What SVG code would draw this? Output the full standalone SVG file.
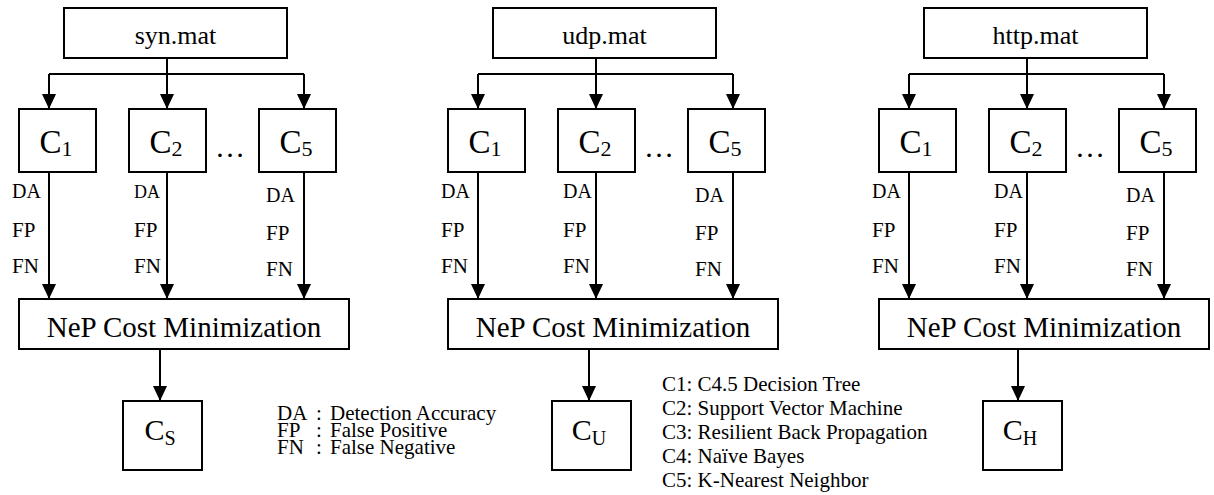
<svg xmlns="http://www.w3.org/2000/svg" width="1214" height="495" viewBox="0 0 1214 495">
  <defs>
    <marker id="head" viewBox="0 0 15 14" markerWidth="15" markerHeight="14" refX="15" refY="7" orient="auto" markerUnits="userSpaceOnUse">
      <path d="M0,0 L15,7 L0,14 z" fill="#000"/>
    </marker>
  </defs>

  <!-- ===== syn.mat pipeline ===== -->
  <g id="syn">
    <g id="syn-connectors" fill="none" stroke="#000" stroke-width="2">
      <path d="M167,58 V74 M49,74 H304"/>
      <path d="M49,74 V109" marker-end="url(#head)"/>
      <path d="M167,74 V109" marker-end="url(#head)"/>
      <path d="M304,74 V109" marker-end="url(#head)"/>
      <path d="M49,172 V299" marker-end="url(#head)"/>
      <path d="M167,172 V299" marker-end="url(#head)"/>
      <path d="M304,172 V299" marker-end="url(#head)"/>
      <path d="M160,349 V401" marker-end="url(#head)"/>
    </g>
    <g id="syn-dataset"><rect x="64" y="8" width="223" height="50" fill="#fff" stroke="#000" stroke-width="2"/><text font-family="Liberation Serif" font-size="26" text-anchor="middle" x="175.5" y="44">syn.mat</text></g>
    <g id="syn-c1"><rect x="19" y="109" width="77" height="63" fill="#fff" stroke="#000" stroke-width="2"/><text font-family="Liberation Serif" font-size="33" text-anchor="middle" x="56" y="153">C<tspan font-size="22" dy="3">1</tspan></text></g>
    <g id="syn-c2"><rect x="129" y="109" width="77" height="63" fill="#fff" stroke="#000" stroke-width="2"/><text font-family="Liberation Serif" font-size="33" text-anchor="middle" x="166" y="153">C<tspan font-size="22" dy="3">2</tspan></text></g>
    <text font-family="Liberation Serif" font-size="30" text-anchor="middle" x="230" y="157">…</text>
    <g id="syn-c5"><rect x="259" y="109" width="77" height="63" fill="#fff" stroke="#000" stroke-width="2"/><text font-family="Liberation Serif" font-size="33" text-anchor="middle" x="296" y="153">C<tspan font-size="22" dy="3">5</tspan></text></g>
    <g id="syn-metrics">
      <text font-family="Liberation Serif" font-size="20" x="12" y="198">DA</text>
      <text font-family="Liberation Serif" font-size="21" x="12" y="237">FP</text>
      <text font-family="Liberation Serif" font-size="21" x="12" y="273">FN</text>
      <text font-family="Liberation Serif" font-size="18" x="134" y="198">DA</text>
      <text font-family="Liberation Serif" font-size="21" x="134" y="237">FP</text>
      <text font-family="Liberation Serif" font-size="21" x="134" y="273">FN</text>
      <text font-family="Liberation Serif" font-size="20" x="266" y="202">DA</text>
      <text font-family="Liberation Serif" font-size="21" x="266" y="240">FP</text>
      <text font-family="Liberation Serif" font-size="21" x="266" y="276">FN</text>
    </g>
    <g id="syn-nep"><rect x="19" y="299" width="330" height="50" fill="#fff" stroke="#000" stroke-width="2"/><text font-family="Liberation Serif" font-size="29" text-anchor="middle" x="184" y="337">NeP Cost Minimization</text></g>
    <g id="syn-out"><rect x="123" y="401" width="79" height="69" fill="#fff" stroke="#000" stroke-width="2"/><text font-family="Liberation Serif" font-size="30" text-anchor="middle" x="160" y="440">C<tspan font-size="20" dy="5">S</tspan></text></g>
  </g>

  <!-- ===== udp.mat pipeline ===== -->
  <g id="udp" transform="translate(429,0)">
    <g id="udp-connectors" fill="none" stroke="#000" stroke-width="2">
      <path d="M167,58 V74 M49,74 H304"/>
      <path d="M49,74 V109" marker-end="url(#head)"/>
      <path d="M167,74 V109" marker-end="url(#head)"/>
      <path d="M304,74 V109" marker-end="url(#head)"/>
      <path d="M49,172 V299" marker-end="url(#head)"/>
      <path d="M167,172 V299" marker-end="url(#head)"/>
      <path d="M304,172 V299" marker-end="url(#head)"/>
      <path d="M160,349 V401" marker-end="url(#head)"/>
    </g>
    <g id="udp-dataset"><rect x="64" y="8" width="223" height="50" fill="#fff" stroke="#000" stroke-width="2"/><text font-family="Liberation Serif" font-size="26" text-anchor="middle" x="175.5" y="44">udp.mat</text></g>
    <g id="udp-c1"><rect x="19" y="109" width="77" height="63" fill="#fff" stroke="#000" stroke-width="2"/><text font-family="Liberation Serif" font-size="33" text-anchor="middle" x="56" y="153">C<tspan font-size="22" dy="3">1</tspan></text></g>
    <g id="udp-c2"><rect x="129" y="109" width="77" height="63" fill="#fff" stroke="#000" stroke-width="2"/><text font-family="Liberation Serif" font-size="33" text-anchor="middle" x="166" y="153">C<tspan font-size="22" dy="3">2</tspan></text></g>
    <text font-family="Liberation Serif" font-size="30" text-anchor="middle" x="230" y="157">…</text>
    <g id="udp-c5"><rect x="259" y="109" width="77" height="63" fill="#fff" stroke="#000" stroke-width="2"/><text font-family="Liberation Serif" font-size="33" text-anchor="middle" x="296" y="153">C<tspan font-size="22" dy="3">5</tspan></text></g>
    <g id="udp-metrics">
      <text font-family="Liberation Serif" font-size="20" x="12" y="198">DA</text>
      <text font-family="Liberation Serif" font-size="21" x="12" y="237">FP</text>
      <text font-family="Liberation Serif" font-size="21" x="12" y="273">FN</text>
      <text font-family="Liberation Serif" font-size="20" x="134" y="198">DA</text>
      <text font-family="Liberation Serif" font-size="21" x="134" y="237">FP</text>
      <text font-family="Liberation Serif" font-size="21" x="134" y="273">FN</text>
      <text font-family="Liberation Serif" font-size="20" x="266" y="202">DA</text>
      <text font-family="Liberation Serif" font-size="21" x="266" y="240">FP</text>
      <text font-family="Liberation Serif" font-size="21" x="266" y="276">FN</text>
    </g>
    <g id="udp-nep"><rect x="19" y="299" width="330" height="50" fill="#fff" stroke="#000" stroke-width="2"/><text font-family="Liberation Serif" font-size="29" text-anchor="middle" x="184" y="337">NeP Cost Minimization</text></g>
    <g id="udp-out"><rect x="123" y="401" width="79" height="69" fill="#fff" stroke="#000" stroke-width="2"/><text font-family="Liberation Serif" font-size="30" text-anchor="middle" x="160" y="440">C<tspan font-size="20" dy="5">U</tspan></text></g>
  </g>

  <!-- ===== http.mat pipeline ===== -->
  <g id="http" transform="translate(860,0)">
    <g id="http-connectors" fill="none" stroke="#000" stroke-width="2">
      <path d="M167,58 V74 M49,74 H304"/>
      <path d="M49,74 V109" marker-end="url(#head)"/>
      <path d="M167,74 V109" marker-end="url(#head)"/>
      <path d="M304,74 V109" marker-end="url(#head)"/>
      <path d="M49,172 V299" marker-end="url(#head)"/>
      <path d="M167,172 V299" marker-end="url(#head)"/>
      <path d="M304,172 V299" marker-end="url(#head)"/>
      <path d="M158,349 V401" marker-end="url(#head)"/>
    </g>
    <g id="http-dataset"><rect x="64" y="8" width="223" height="50" fill="#fff" stroke="#000" stroke-width="2"/><text font-family="Liberation Serif" font-size="26" text-anchor="middle" x="175.5" y="44">http.mat</text></g>
    <g id="http-c1"><rect x="19" y="109" width="77" height="63" fill="#fff" stroke="#000" stroke-width="2"/><text font-family="Liberation Serif" font-size="33" text-anchor="middle" x="56" y="153">C<tspan font-size="22" dy="3">1</tspan></text></g>
    <g id="http-c2"><rect x="129" y="109" width="77" height="63" fill="#fff" stroke="#000" stroke-width="2"/><text font-family="Liberation Serif" font-size="33" text-anchor="middle" x="166" y="153">C<tspan font-size="22" dy="3">2</tspan></text></g>
    <text font-family="Liberation Serif" font-size="30" text-anchor="middle" x="230" y="157">…</text>
    <g id="http-c5"><rect x="259" y="109" width="77" height="63" fill="#fff" stroke="#000" stroke-width="2"/><text font-family="Liberation Serif" font-size="33" text-anchor="middle" x="296" y="153">C<tspan font-size="22" dy="3">5</tspan></text></g>
    <g id="http-metrics">
      <text font-family="Liberation Serif" font-size="20" x="12" y="198">DA</text>
      <text font-family="Liberation Serif" font-size="21" x="12" y="237">FP</text>
      <text font-family="Liberation Serif" font-size="21" x="12" y="273">FN</text>
      <text font-family="Liberation Serif" font-size="20" x="134" y="198">DA</text>
      <text font-family="Liberation Serif" font-size="21" x="134" y="237">FP</text>
      <text font-family="Liberation Serif" font-size="21" x="134" y="273">FN</text>
      <text font-family="Liberation Serif" font-size="20" x="266" y="202">DA</text>
      <text font-family="Liberation Serif" font-size="21" x="266" y="240">FP</text>
      <text font-family="Liberation Serif" font-size="21" x="266" y="276">FN</text>
    </g>
    <g id="http-nep"><rect x="19" y="299" width="330" height="50" fill="#fff" stroke="#000" stroke-width="2"/><text font-family="Liberation Serif" font-size="29" text-anchor="middle" x="184" y="337">NeP Cost Minimization</text></g>
    <g id="http-out"><rect x="123" y="401" width="79" height="69" fill="#fff" stroke="#000" stroke-width="2"/><text font-family="Liberation Serif" font-size="30" text-anchor="middle" x="160" y="440">C<tspan font-size="20" dy="5">H</tspan></text></g>
  </g>

  <!-- metric abbreviations -->
  <g id="legend-metrics">
    <text font-family="Liberation Serif" font-size="21" x="277" y="420">DA</text>
    <text font-family="Liberation Serif" font-size="21" x="316" y="420">:</text>
    <text font-family="Liberation Serif" font-size="21" x="330" y="420">Detection Accuracy</text>
    <text font-family="Liberation Serif" font-size="21" x="277" y="437">FP</text>
    <text font-family="Liberation Serif" font-size="21" x="316" y="437">:</text>
    <text font-family="Liberation Serif" font-size="21" x="330" y="437">False Positive</text>
    <text font-family="Liberation Serif" font-size="21" x="277" y="454">FN</text>
    <text font-family="Liberation Serif" font-size="21" x="316" y="454">:</text>
    <text font-family="Liberation Serif" font-size="21" x="330" y="454">False Negative</text>
  </g>

  <!-- classifier key -->
  <g id="legend-classifiers">
    <text font-family="Liberation Serif" font-size="21" x="662" y="391">C1: C4.5 Decision Tree</text>
    <text font-family="Liberation Serif" font-size="21" x="662" y="415">C2: Support Vector Machine</text>
    <text font-family="Liberation Serif" font-size="21" x="662" y="439">C3: Resilient Back Propagation</text>
    <text font-family="Liberation Serif" font-size="21" x="662" y="463">C4: Naïve Bayes</text>
    <text font-family="Liberation Serif" font-size="21" x="662" y="487">C5: K-Nearest Neighbor</text>
  </g>
</svg>
